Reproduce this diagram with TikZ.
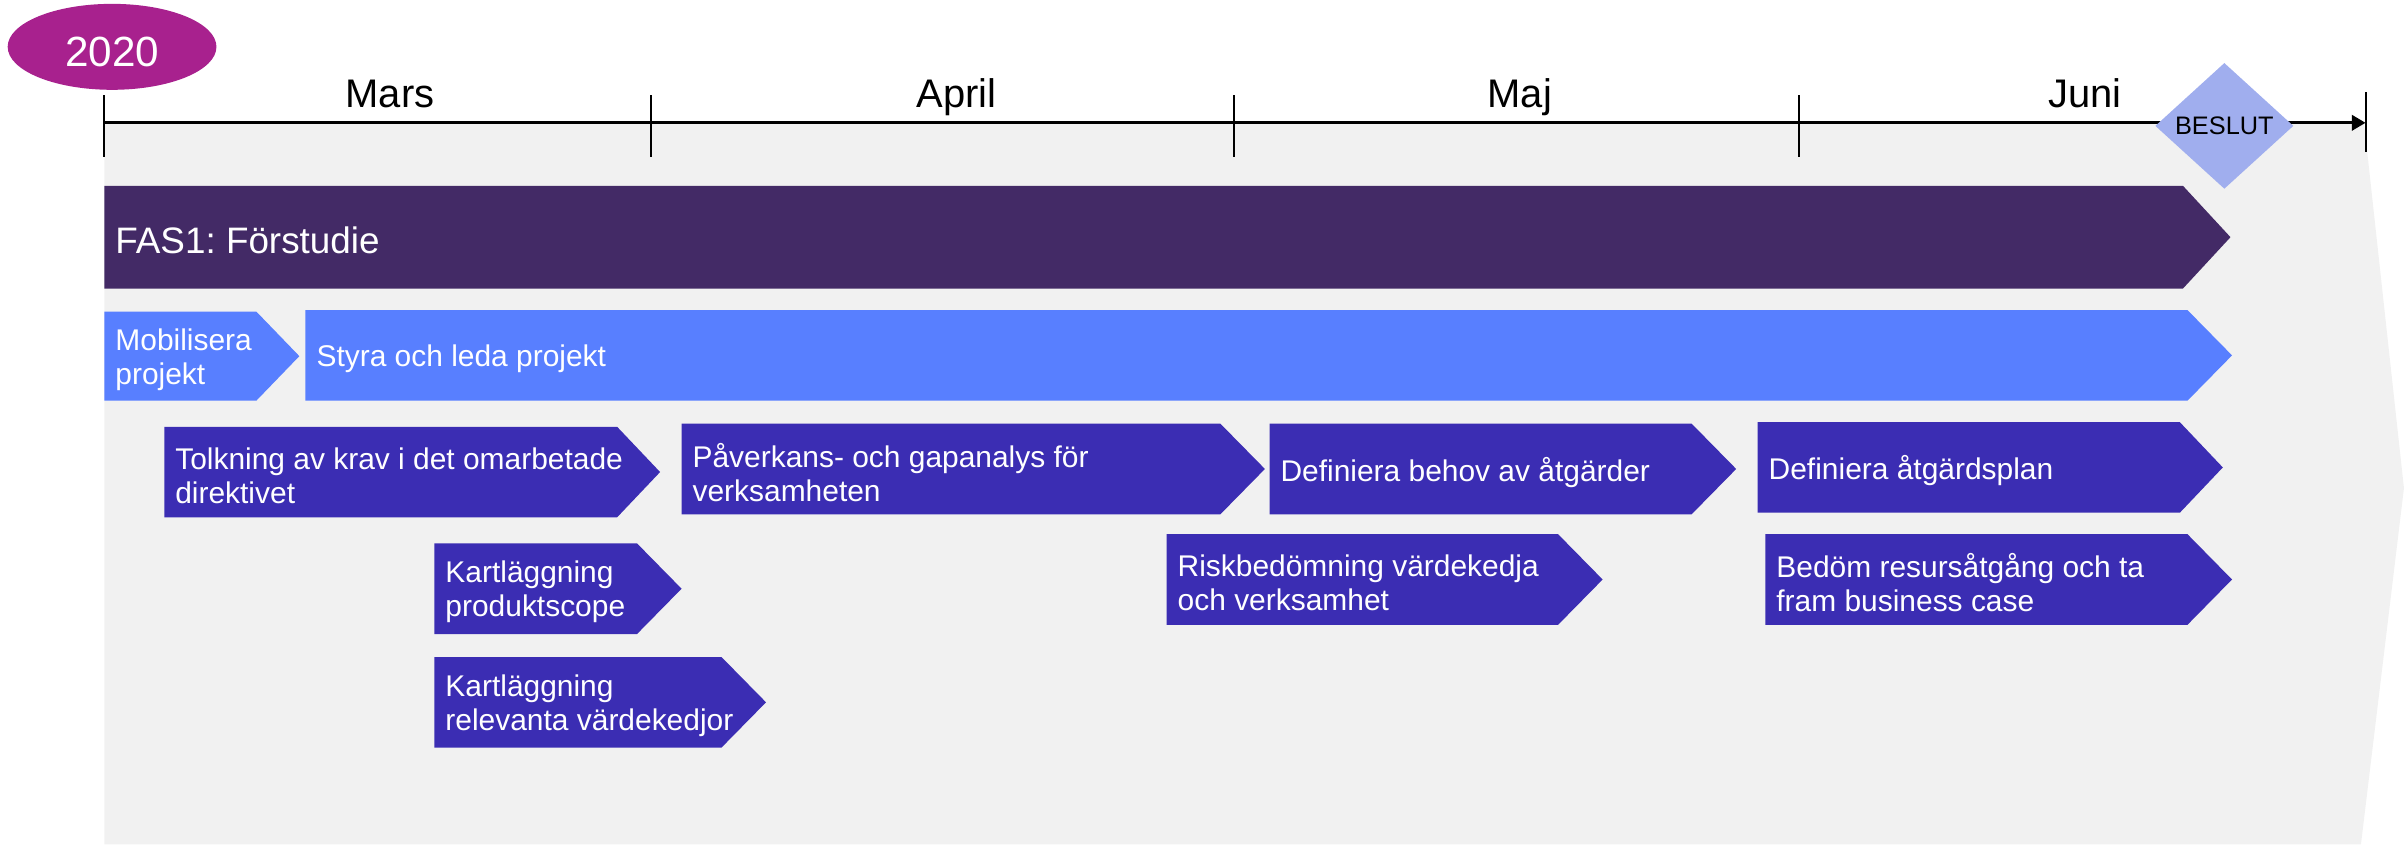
\documentclass[tikz,border=0pt]{standalone}
\usepackage{fontspec}
\setmainfont{Liberation Sans}
\frenchspacing
\usetikzlibrary{arrows.meta,shapes.geometric}
\definecolor{bggray}{RGB}{241,241,241}
\definecolor{yearc}{RGB}{168,33,142}
\definecolor{fasc}{RGB}{67,42,102}
\definecolor{lightbar}{RGB}{88,127,255}
\definecolor{darkbar}{RGB}{59,45,179}
\definecolor{beslutc}{RGB}{160,174,238}
\tikzset{
  bartext/.style={text=white, align=left, inner sep=0pt, anchor=west,
    font=\fontsize{19.5}{22}\selectfont},
  monthlabel/.style={anchor=base, inner sep=0pt, font=\fontsize{26}{30}\selectfont},
  tickline/.style={line width=1.3pt, black},
}
% #1 name, #2 x1, #3 y1 (top), #4 x2 (end of rectangle), #5 y2 (bottom), #6 tip x, #7 colour, #8 text
\newcommand\chevbar[8]{%
  \fill[#7] (#2,#3) -- (#4,#3) -- (#6,{(#3+#5)/2}) -- (#4,#5) -- (#2,#5) -- cycle;
  \node[bartext] (#1) at ({#2+7},{(#3+#5)/2+2.2}) {#8};}
\begin{document}
\begin{tikzpicture}[x=1pt,y=-1pt]
\useasboundingbox (0,0) rectangle (1568,550);
% background
\fill[bggray] (68,80) -- (1540,80) -- (1566,318) -- (1538,550) -- (68,550) -- cycle;
% year
\node[ellipse, fill=yearc, minimum width=136pt, minimum height=56pt, inner sep=0pt] (year) at (73,30.5) {};
\node[anchor=base, text=white, inner sep=0pt, font=\fontsize{27.5}{30}\selectfont] (yeartext) at (73,43.5) {2020};
% axis
\coordinate (axstart) at (68,80);
\coordinate (axend) at (1541,80);
\draw[line width=2pt, -{Triangle[length=9pt,width=10pt]}] (axstart) -- (axend);
\foreach \x in {68,424,804,1172} \draw[tickline] (\x,62) -- (\x,102);
\draw[tickline] (1541,60) -- (1541,99);
\node[monthlabel] (mars) at (254,70) {Mars};
\node[monthlabel] (april) at (623,70) {April};
\node[monthlabel] (maj) at (990,70) {Maj};
\node[monthlabel] (juni) at (1358,70) {Juni};
% decision
\node[diamond, fill=beslutc, minimum width=90pt, minimum height=82pt, inner sep=0pt,
  font=\fontsize{16.5}{18}\selectfont] (beslut) at (1449,82) {BESLUT};
% bars
\chevbar{fas}{68}{121}{1422}{188}{1453}{fasc}{\fontsize{24}{28}\selectfont FAS1: Förstudie}
\chevbar{mob}{68}{203}{167}{261}{195}{lightbar}{Mobilisera\\projekt}
\chevbar{styra}{199}{202}{1425}{261}{1454}{lightbar}{Styra och leda projekt}
\chevbar{tolk}{107}{278}{402}{337}{430}{darkbar}{Tolkning av krav i det omarbetade\\direktivet}
\chevbar{paverk}{444}{276}{795}{335}{824}{darkbar}{Påverkans- och gapanalys för\\verksamheten}
\chevbar{defbehov}{827}{276}{1102}{335}{1131}{darkbar}{Definiera behov av åtgärder}
\chevbar{defplan}{1145}{275}{1420}{334}{1448}{darkbar}{Definiera åtgärdsplan}
\chevbar{kartprod}{283}{354}{415}{413}{444}{darkbar}{Kartläggning\\produktscope}
\chevbar{risk}{760}{348}{1015}{407}{1044}{darkbar}{Riskbedömning värdekedja\\och verksamhet}
\chevbar{bedom}{1150}{348}{1425}{407}{1454}{darkbar}{Bedöm resursåtgång och ta\\fram business case}
\chevbar{kartrel}{283}{428}{470}{487}{499}{darkbar}{Kartläggning\\relevanta värdekedjor}
\end{tikzpicture}
\end{document}
